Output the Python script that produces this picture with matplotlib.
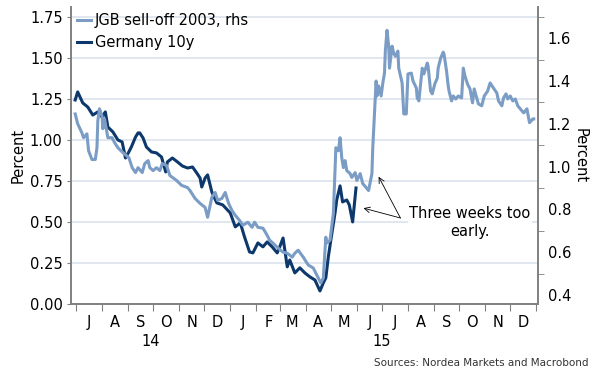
import matplotlib
matplotlib.use('Agg')
import matplotlib.pyplot as plt
import matplotlib.dates as mdates
import matplotlib.ticker as mticker
import pandas as pd

plt.rcParams['font.family'] = 'DejaVu Sans'

germany_dates = ['2014-06-30', '2014-07-03', '2014-07-09', '2014-07-15', '2014-07-21', '2014-07-27',
                 '2014-08-01', '2014-08-05', '2014-08-08', '2014-08-14', '2014-08-20', '2014-08-25',
                 '2014-08-29', '2014-09-02', '2014-09-05', '2014-09-10', '2014-09-13', '2014-09-15',
                 '2014-09-19', '2014-09-23', '2014-09-29', '2014-10-05', '2014-10-11', '2014-10-16',
                 '2014-10-18', '2014-10-24', '2014-10-30', '2014-11-05', '2014-11-11', '2014-11-17',
                 '2014-11-22', '2014-11-26', '2014-11-28', '2014-12-02', '2014-12-05', '2014-12-10',
                 '2014-12-16', '2014-12-23', '2015-01-01', '2015-01-07', '2015-01-13', '2015-01-18',
                 '2015-01-24', '2015-01-28', '2015-02-03', '2015-02-09', '2015-02-14', '2015-02-20',
                 '2015-02-26', '2015-03-01', '2015-03-05', '2015-03-10', '2015-03-13', '2015-03-19',
                 '2015-03-25', '2015-03-31', '2015-04-06', '2015-04-12', '2015-04-18', '2015-04-22',
                 '2015-04-25', '2015-04-28', '2015-05-01', '2015-05-06', '2015-05-08', '2015-05-12',
                 '2015-05-15', '2015-05-20', '2015-05-23', '2015-05-27', '2015-05-31']
germany_10y = [1.244, 1.293, 1.226, 1.201, 1.152, 1.171, 1.140, 1.171, 1.079, 1.049,
               1.000, 0.988, 0.890, 0.927, 0.957, 1.018, 1.043, 1.043, 1.012, 0.957,
               0.927, 0.921, 0.896, 0.805, 0.866, 0.890, 0.866, 0.841, 0.829, 0.835,
               0.799, 0.768, 0.713, 0.768, 0.787, 0.683, 0.616, 0.604, 0.555, 0.470,
               0.494, 0.409, 0.317, 0.311, 0.372, 0.348, 0.378, 0.348, 0.311, 0.348,
               0.402, 0.226, 0.268, 0.189, 0.220, 0.189, 0.165, 0.146, 0.079, 0.128,
               0.159, 0.287, 0.390, 0.555, 0.634, 0.720, 0.622, 0.634, 0.604, 0.500, 0.707]

jgb_dates = ['2014-06-30', '2014-07-03', '2014-07-08', '2014-07-10', '2014-07-14', '2014-07-16',
             '2014-07-20', '2014-07-24', '2014-07-26', '2014-07-27', '2014-07-29', '2014-08-01',
             '2014-08-02', '2014-08-04', '2014-08-08', '2014-08-13', '2014-08-16', '2014-08-20',
             '2014-08-26', '2014-09-02', '2014-09-06', '2014-09-10', '2014-09-13', '2014-09-18',
             '2014-09-21', '2014-09-25', '2014-09-27', '2014-10-01', '2014-10-05', '2014-10-09',
             '2014-10-12', '2014-10-17', '2014-10-21', '2014-10-29', '2014-11-04', '2014-11-11',
             '2014-11-14', '2014-11-20', '2014-11-26', '2014-12-02', '2014-12-05', '2014-12-10',
             '2014-12-14', '2014-12-17', '2014-12-22', '2014-12-26', '2014-12-30', '2015-01-03',
             '2015-01-07', '2015-01-12', '2015-01-16', '2015-01-22', '2015-01-27', '2015-01-30',
             '2015-02-03', '2015-02-09', '2015-02-14', '2015-02-17', '2015-02-21', '2015-02-27',
             '2015-03-05', '2015-03-10', '2015-03-16', '2015-03-19', '2015-03-23', '2015-03-29',
             '2015-04-04', '2015-04-10', '2015-04-16', '2015-04-19', '2015-04-22', '2015-04-25',
             '2015-04-26', '2015-04-30', '2015-05-04', '2015-05-07', '2015-05-10', '2015-05-12',
             '2015-05-14', '2015-05-16', '2015-05-18', '2015-05-20', '2015-05-24', '2015-05-26',
             '2015-05-30', '2015-06-01', '2015-06-05', '2015-06-08', '2015-06-12', '2015-06-15',
             '2015-06-19', '2015-06-20', '2015-06-22', '2015-06-24', '2015-06-25', '2015-06-27',
             '2015-06-30', '2015-07-02', '2015-07-04', '2015-07-05', '2015-07-07', '2015-07-09',
             '2015-07-10', '2015-07-13', '2015-07-15', '2015-07-17', '2015-07-20', '2015-07-21',
             '2015-07-25', '2015-07-27', '2015-07-30', '2015-08-01', '2015-08-05', '2015-08-07',
             '2015-08-11', '2015-08-12', '2015-08-14', '2015-08-18', '2015-08-20', '2015-08-24',
             '2015-08-25', '2015-08-28', '2015-08-30', '2015-09-02', '2015-09-05', '2015-09-06',
             '2015-09-09', '2015-09-12', '2015-09-13', '2015-09-16', '2015-09-18', '2015-09-19',
             '2015-09-22', '2015-09-24', '2015-09-27', '2015-09-30', '2015-10-04', '2015-10-06',
             '2015-10-08', '2015-10-11', '2015-10-14', '2015-10-17', '2015-10-19', '2015-10-22',
             '2015-10-24', '2015-10-28', '2015-10-31', '2015-11-04', '2015-11-07', '2015-11-11',
             '2015-11-15', '2015-11-17', '2015-11-21', '2015-11-23', '2015-11-26', '2015-11-28',
             '2015-12-01', '2015-12-04', '2015-12-07', '2015-12-10', '2015-12-13', '2015-12-15',
             '2015-12-17', '2015-12-21', '2015-12-22', '2015-12-24', '2015-12-28', '2015-12-29']
jgb_2003 = [1.246, 1.200, 1.158, 1.135, 1.153, 1.074, 1.033, 1.033, 1.088, 1.214, 1.270, 1.237,
            1.177, 1.223, 1.135, 1.135, 1.112, 1.088, 1.065, 1.042, 0.995, 0.972, 0.995, 0.972,
            1.014, 1.028, 0.995, 0.981, 0.995, 0.981, 1.014, 1.005, 0.958, 0.935, 0.912, 0.902,
            0.888, 0.851, 0.828, 0.809, 0.763, 0.856, 0.879, 0.842, 0.851, 0.879, 0.828, 0.795,
            0.772, 0.749, 0.726, 0.740, 0.716, 0.740, 0.716, 0.712, 0.679, 0.656, 0.642, 0.619,
            0.600, 0.595, 0.577, 0.595, 0.609, 0.577, 0.540, 0.526, 0.479, 0.456, 0.479, 0.670,
            0.642, 0.656, 0.781, 1.088, 1.074, 1.135, 1.042, 0.995, 1.028, 0.981, 0.967, 0.949,
            0.972, 0.935, 0.967, 0.921, 0.902, 0.888, 0.967, 1.088, 1.246, 1.400, 1.330, 1.377,
            1.330, 1.391, 1.437, 1.540, 1.637, 1.563, 1.460, 1.563, 1.530, 1.516, 1.540, 1.460,
            1.391, 1.246, 1.246, 1.433, 1.437, 1.400, 1.367, 1.321, 1.307, 1.460, 1.433, 1.484,
            1.470, 1.353, 1.340, 1.386, 1.414, 1.460, 1.507, 1.535, 1.526, 1.447, 1.377, 1.353,
            1.307, 1.330, 1.316, 1.330, 1.321, 1.460, 1.423, 1.386, 1.363, 1.298, 1.363, 1.321,
            1.293, 1.284, 1.330, 1.353, 1.391, 1.367, 1.344, 1.307, 1.284, 1.321, 1.340, 1.316,
            1.330, 1.307, 1.316, 1.284, 1.270, 1.260, 1.251, 1.270, 1.246, 1.205, 1.223, 1.223]

left_ticks = [0.0, 0.25, 0.5, 0.75, 1.0, 1.25, 1.5, 1.75]
right_ticks = [0.4, 0.6, 0.8, 1.0, 1.2, 1.4, 1.6]
right_minor = [0.5, 0.7, 0.9, 1.1, 1.3, 1.5, 1.7]

dark = '#0c386b'
light = '#7b9dc5'
grey = '#808080'

fig = plt.figure(figsize=(5.99, 3.78), dpi=100)
ax = fig.add_axes([0.1185, 0.196, 0.7795, 0.7855])
ax2 = ax.twinx()

ax.plot(pd.to_datetime(germany_dates), germany_10y, color=dark, lw=2.2, label='Germany 10y')
ax2.plot(pd.to_datetime(jgb_dates), jgb_2003, color=light, lw=2.2, label='JGB sell-off 2003, rhs')

ax.set_ylim(0, 1.811)
ax2.set_ylim(0.358, 1.746)
ax.set_xlim(pd.Timestamp('2014-06-25'), pd.Timestamp('2016-01-03'))

ax.set_yticks(left_ticks)
ax.set_yticklabels(['%.2f' % t for t in left_ticks])
ax.grid(axis='y', color='#dde5ee', lw=1.3)
ax.set_axisbelow(True)
ax2.set_yticks(right_ticks)
ax2.set_yticklabels(['%.1f' % t for t in right_ticks])
ax2.yaxis.set_minor_locator(mticker.FixedLocator(right_minor))

ax.xaxis.set_major_locator(mdates.MonthLocator())
ax.xaxis.set_major_formatter(mticker.NullFormatter())
ax.xaxis.set_minor_locator(mdates.MonthLocator(bymonthday=16))
ax.xaxis.set_minor_formatter(mticker.FuncFormatter(lambda x, pos: mdates.num2date(x).strftime('%b')[0]))

for a in (ax, ax2):
    a.spines['top'].set_visible(False)
    for s in ('left', 'right', 'bottom'):
        a.spines[s].set_color(grey)
        a.spines[s].set_linewidth(1.2)

ax.tick_params(axis='y', length=3, color=grey, pad=3, labelsize=10.5)
ax.tick_params(axis='x', which='major', length=2.5, color=grey)
ax.tick_params(axis='x', which='minor', length=0, pad=8, labelsize=10.5)
ax2.tick_params(axis='y', which='major', length=0, pad=7, labelsize=10.5)
ax2.tick_params(axis='y', which='minor', length=4, color=grey)

# longer tick at the year change
for t in ax.xaxis.get_major_ticks():
    if mdates.num2date(t.get_loc()).month == 1:
        t.tick1line.set_markersize(5)

ax.set_ylabel('Percent', fontsize=10.5, labelpad=3)
ax2.set_ylabel('Percent', fontsize=10.5, rotation=270, labelpad=12)

trans = matplotlib.transforms.blended_transform_factory(ax.transData, ax.transAxes)
ax.text(pd.Timestamp('2014-09-28'), -0.128, '14', transform=trans, ha='center', va='center', fontsize=10.5)
ax.text(pd.Timestamp('2015-07-01'), -0.128, '15', transform=trans, ha='center', va='center', fontsize=10.5)

h1, l1 = ax.get_legend_handles_labels()
h2, l2 = ax2.get_legend_handles_labels()
ax2.legend(h2 + h1, l2 + l1, loc='upper left', bbox_to_anchor=(0, 1), borderaxespad=0,
           frameon=False, fontsize=10.5, handlelength=1.0, handletextpad=0.25, labelspacing=0.5)

# annotation
ax.text(pd.Timestamp('2015-10-14'), 0.497, 'Three weeks too\nearly.', ha='center', va='center',
        fontsize=10.5, linespacing=1.3, bbox=dict(facecolor='white', edgecolor='none', pad=1))
for tip in [(pd.Timestamp('2015-06-09'), 0.584), (pd.Timestamp('2015-06-27'), 0.776)]:
    ax.annotate('', xy=tip, xytext=(pd.Timestamp('2015-07-23'), 0.524),
                arrowprops=dict(arrowstyle='->', color='black', lw=0.6, shrinkA=0, shrinkB=0))

fig.text(0.983, 0.04, 'Sources: Nordea Markets and Macrobond', ha='right', va='center',
         fontsize=7.5, color='#333333')

fig.savefig('out.png', dpi=100)
